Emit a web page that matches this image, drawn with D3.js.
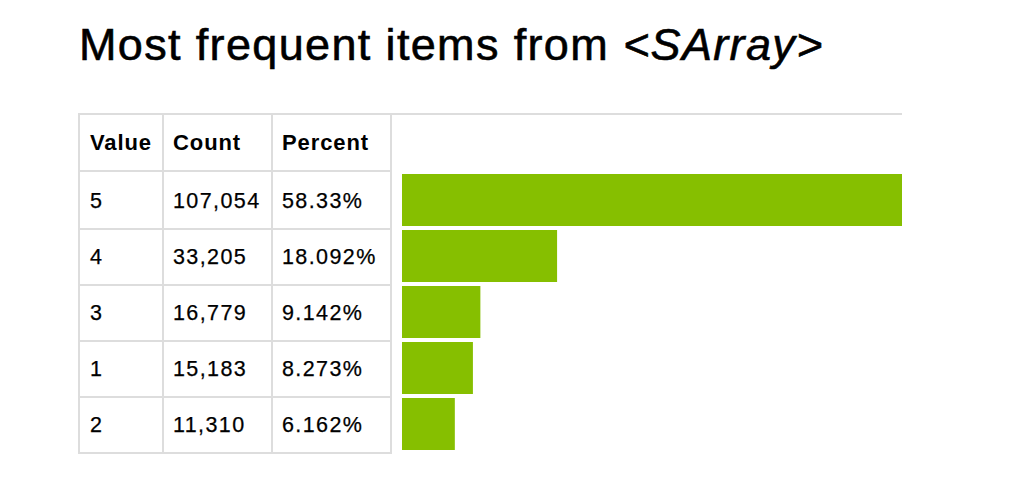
<!DOCTYPE html>
<html>
<head>
<meta charset="utf-8">
<script src="https://cdn.jsdelivr.net/npm/d3@7"></script>
<style>
  html, body { margin: 0; padding: 0; background: #fff; }
  svg { display: block; font-family: "Liberation Sans", Arial, Helvetica, sans-serif; }
</style>
</head>
<body>
<svg id="chart" width="1012" height="498"></svg>
<script>
// ---- data ----
const titleMain = "Most frequent items from ";
const titleType = "<SArray>";
const headers = ["Value", "Count", "Percent"];
const values = ["5", "4", "3", "1", "2"];
const counts = [107054, 33205, 16779, 15183, 11310];
const percents = ["58.33%", "18.092%", "9.142%", "8.273%", "6.162%"];

// ---- layout ----
const borderColor = "#dddddd";
const barColor = "#86bf00";
const tableLeft = 78, tableTop = 113, tableBottom = 453;
const colLines = [78, 162, 271, 390];       // left edges of vertical 2px borders
const textX = [90, 173, 282];
const chartRight = 902;

const svg = d3.select("#chart");

// title
const title = svg.append("text")
  .attr("x", 79).attr("y", 60)
  .attr("font-size", 45)
  .attr("letter-spacing", 1.35)
  .attr("fill", "#000")
  .attr("stroke", "#000")
  .attr("stroke-width", 0.6);
title.append("tspan").text(titleMain);
title.append("tspan").attr("font-style", "italic").text(titleType);

// scales
const y = d3.scaleBand().domain(values).range([174, 454]).paddingInner(0).paddingOuter(0);
const x = d3.scaleLinear().domain([0, d3.max(counts)]).range([402, chartRight]);
const fmt = d3.format(",");

const rows = values.map((v, i) => ({ value: v, count: counts[i], percent: percents[i] }));

// top border (extends across chart column)
svg.append("rect").attr("x", tableLeft).attr("y", tableTop)
  .attr("width", chartRight - tableLeft).attr("height", 2).attr("fill", borderColor);

// header bottom border
svg.append("rect").attr("x", tableLeft).attr("y", 170)
  .attr("width", colLines[3] + 2 - tableLeft).attr("height", 2).attr("fill", borderColor);

// row bottom borders
svg.selectAll("rect.rowline").data(rows).enter().append("rect")
  .attr("class", "rowline")
  .attr("x", tableLeft)
  .attr("y", d => y(d.value) + y.bandwidth() - 2)
  .attr("width", colLines[3] + 2 - tableLeft)
  .attr("height", 2)
  .attr("fill", borderColor);

// vertical borders
svg.selectAll("rect.colline").data(colLines).enter().append("rect")
  .attr("class", "colline")
  .attr("x", d => d).attr("y", tableTop)
  .attr("width", 2).attr("height", tableBottom - tableTop)
  .attr("fill", borderColor);

// header text
svg.selectAll("text.hdr").data(headers).enter().append("text")
  .attr("class", "hdr")
  .attr("x", (d, i) => textX[i]).attr("y", 150)
  .attr("font-size", 22).attr("font-weight", "bold")
  .attr("letter-spacing", 0.9)
  .attr("fill", "#000")
  .text(d => d);

// cell text
const cellGroups = svg.selectAll("g.row").data(rows).enter().append("g").attr("class", "row")
  .attr("font-size", 21.5).attr("letter-spacing", 1.4)
  .attr("fill", "#000").attr("stroke", "#000").attr("stroke-width", 0.25);
cellGroups.append("text").attr("x", textX[0]).attr("y", d => y(d.value) + 34.3).text(d => d.value);
cellGroups.append("text").attr("x", textX[1]).attr("y", d => y(d.value) + 34.3).text(d => fmt(d.count));
cellGroups.append("text").attr("x", textX[2]).attr("y", d => y(d.value) + 34.3).text(d => d.percent);

// bars
svg.selectAll("rect.bar").data(rows).enter().append("rect")
  .attr("class", "bar")
  .attr("x", x(0))
  .attr("y", d => y(d.value))
  .attr("width", d => x(d.count) - x(0))
  .attr("height", 52)
  .attr("fill", barColor);
</script>
</body>
</html>
